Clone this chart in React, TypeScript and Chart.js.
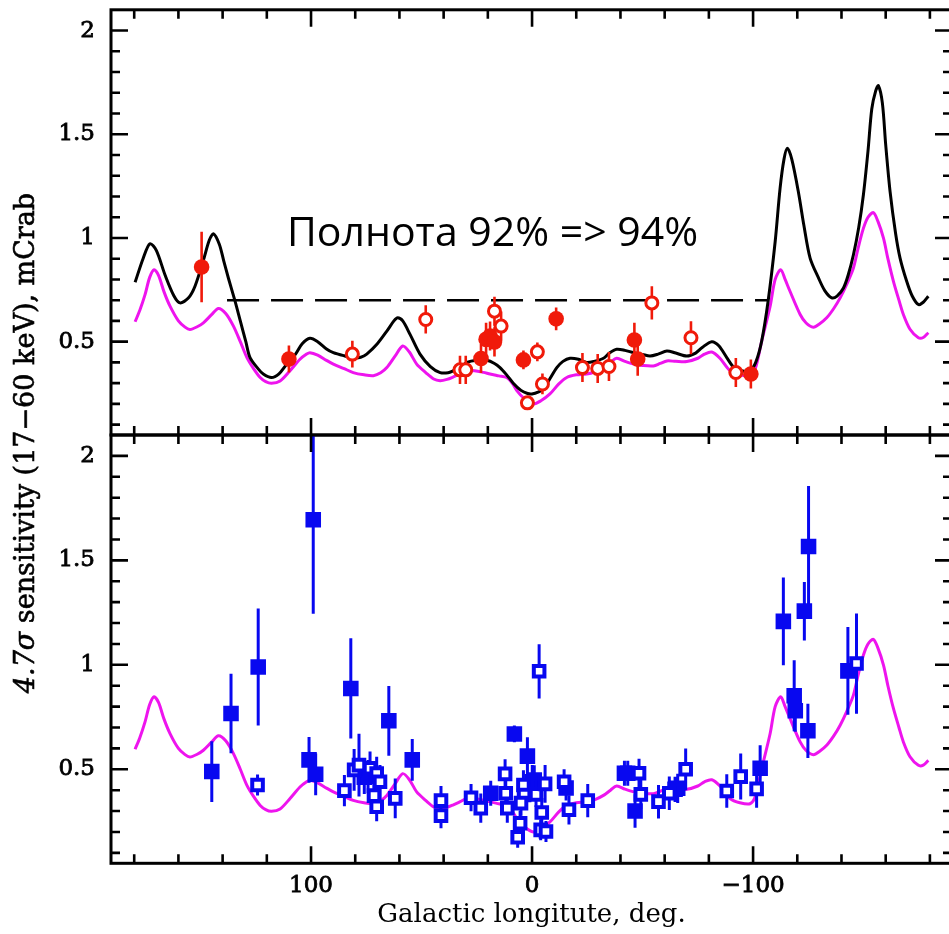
import React, { useEffect, useRef } from "react";
import { Chart, registerables } from "chart.js";
Chart.register(...registerables);

// ---------------- data ----------------
const blackLon = [179.6, 176, 172.9, 170, 166, 162, 159.3, 155.5, 152.5, 148.5, 146, 144.1, 141.5, 139.5, 137.4, 134.5, 132, 129.5, 127.6, 124, 121.6, 117.9, 114.5, 111.1, 107, 104, 100.5, 97, 93, 89.9, 85, 80.9, 77.5, 74.8, 70, 65.7, 62.5, 60.8, 58.5, 55.2, 50.7, 46, 41.6, 38, 35.6, 32, 29.5, 25, 20.5, 17, 14.5, 11.5, 8.5, 5, 2, 0.1, -3, -5.1, -8, -11.2, -14, -17.2, -21, -24.7, -28, -32.3, -35, -38.3, -42, -45.9, -50, -53.4, -57, -61, -65, -70, -74, -77, -81.3, -84.5, -88.1, -90.5, -92.6, -95.5, -98.6, -101.2, -103.9, -106.9, -110, -112.2, -114, -115.5, -117.5, -120.5, -123, -125.8, -129.6, -132.5, -135.6, -138, -140.9, -143, -145.4, -147.8, -149.9, -152, -153.7, -155.5, -156.7, -158.5, -160, -162, -164.5, -166.5, -169.5, -172, -174.8, -177, -179.3];
const blackVal = [0.786, 0.9, 0.972, 0.94, 0.82, 0.72, 0.687, 0.71, 0.767, 0.9, 0.99, 1.02, 0.97, 0.89, 0.807, 0.7, 0.6, 0.5, 0.423, 0.37, 0.344, 0.327, 0.345, 0.39, 0.44, 0.49, 0.516, 0.5, 0.465, 0.447, 0.432, 0.423, 0.425, 0.44, 0.49, 0.551, 0.6, 0.615, 0.6, 0.535, 0.44, 0.38, 0.351, 0.35, 0.36, 0.38, 0.4, 0.41, 0.41, 0.395, 0.375, 0.34, 0.3, 0.265, 0.25, 0.248, 0.258, 0.272, 0.32, 0.375, 0.405, 0.42, 0.415, 0.4, 0.405, 0.42, 0.445, 0.463, 0.458, 0.447, 0.438, 0.431, 0.44, 0.455, 0.445, 0.431, 0.445, 0.472, 0.5, 0.48, 0.423, 0.385, 0.365, 0.358, 0.36, 0.4, 0.503, 0.703, 0.983, 1.238, 1.38, 1.433, 1.38, 1.222, 1.06, 0.903, 0.807, 0.745, 0.711, 0.72, 0.759, 0.82, 0.919, 1.05, 1.207, 1.42, 1.622, 1.71, 1.734, 1.65, 1.45, 1.222, 1.02, 0.903, 0.791, 0.72, 0.679, 0.69, 0.719];

const magentaLon = [179.6, 177.5, 175.1, 173, 171, 169, 166.5, 163.8, 160, 157, 154.8, 151.5, 148.7, 145, 141.9, 138.5, 135.1, 132, 129, 126, 123, 120.5, 117.9, 114, 109.5, 105, 102, 100.5, 97, 93, 89.9, 85, 80.9, 76, 71.8, 68.5, 65.7, 62, 58.5, 55.5, 52.2, 48, 44.5, 41.6, 38.5, 35.6, 32.5, 29.5, 26, 22, 19, 15, 11.5, 9, 6.9, 3.5, -0.6, -4, -8.1, -12, -15.7, -20, -24.7, -28.5, -32.3, -35.5, -38.3, -42, -45.9, -50, -54.9, -58, -61, -65, -70, -75, -78, -81.3, -85, -89.6, -94, -98.6, -101, -103.9, -107.7, -110, -112.5, -114.5, -116.7, -121.3, -124, -127.3, -130, -133.3, -136.5, -139.4, -142.5, -145.4, -147.5, -149.9, -152, -154.4, -156.5, -159, -161, -163.5, -166, -168, -171, -174.8, -177, -179.3];
const magentaVal = [0.596, 0.65, 0.727, 0.81, 0.847, 0.82, 0.74, 0.671, 0.6, 0.57, 0.559, 0.572, 0.591, 0.63, 0.66, 0.635, 0.575, 0.5, 0.423, 0.37, 0.327, 0.307, 0.299, 0.31, 0.36, 0.415, 0.44, 0.447, 0.435, 0.41, 0.392, 0.37, 0.351, 0.34, 0.336, 0.35, 0.375, 0.43, 0.479, 0.45, 0.392, 0.35, 0.32, 0.312, 0.318, 0.33, 0.345, 0.36, 0.36, 0.352, 0.344, 0.335, 0.327, 0.3, 0.264, 0.225, 0.2, 0.215, 0.248, 0.295, 0.327, 0.34, 0.344, 0.355, 0.375, 0.4, 0.42, 0.405, 0.392, 0.385, 0.383, 0.395, 0.407, 0.405, 0.404, 0.42, 0.44, 0.45, 0.42, 0.36, 0.34, 0.335, 0.37, 0.503, 0.67, 0.8, 0.847, 0.8, 0.743, 0.631, 0.59, 0.57, 0.585, 0.615, 0.66, 0.711, 0.78, 0.855, 0.95, 1.046, 1.1, 1.122, 1.08, 0.999, 0.9, 0.791, 0.7, 0.631, 0.56, 0.519, 0.52, 0.543];

const thresholdLevel = 0.7;
const thresholdFrom = 138;
const thresholdTo = -107;

const redFilledLon = [149.5, 110, 23.1, 20.8, 19, 17, 3.9, -10.9, -46.3, -47.8, -99];
const redFilledVal = [0.86, 0.416, 0.419, 0.511, 0.527, 0.499, 0.412, 0.61, 0.508, 0.416, 0.344];
const redFilledErr = [0.17, 0.065, 0.07, 0.08, 0.07, 0.07, 0.045, 0.055, 0.083, 0.08, 0.07];

const redOpenLon = [81.3, 48.1, 32.6, 30, 17, 14, -2.4, 2.1, -4.7, -22.8, -29.7, -34.8, -54.2, -71.9, -92.2];
const redOpenVal = [0.44, 0.607, 0.364, 0.364, 0.647, 0.575, 0.451, 0.205, 0.296, 0.375, 0.371, 0.38, 0.687, 0.519, 0.351];
const redOpenErr = [0.065, 0.068, 0.068, 0.068, 0.07, 0.07, 0.045, 0.03, 0.05, 0.07, 0.07, 0.07, 0.08, 0.08, 0.07];

const blueFilledLon = [144.9, 136.2, 123.9, 100.9, 97.9, 99, 82, 64.8, 54.2, 75.9, 74.2, 18.7, 8, 2.1, -0.1, -1, -15.4, -41.8, -43.3, -46.6, -64.7, -65.9, -103.2, -113.7, -118.6, -119.1, -123.2, -125.1, -124.8, -142.9];
const blueFilledVal = [0.489, 0.767, 0.99, 0.545, 0.476, 1.694, 0.887, 0.732, 0.545, 0.462, 0.465, 0.385, 0.669, 0.563, 0.44, 0.449, 0.41, 0.481, 0.481, 0.3, 0.404, 0.409, 0.505, 1.208, 0.852, 0.78, 1.257, 1.566, 0.684, 0.971];
const blueFilledErr = [0.145, 0.19, 0.28, 0.11, 0.1, 0.45, 0.24, 0.167, 0.1, 0.08, 0.08, 0.06, 0.04, 0.09, 0.08, 0.07, 0.06, 0.06, 0.06, 0.08, 0.06, 0.07, 0.11, 0.21, 0.17, 0.1, 0.14, 0.29, 0.13, 0.21];

const blueOpenLon = [124.2, 84.9, 80.5, 78.3, 73.3, 70.3, 68.8, 71.5, 70.3, 61.9, 41.2, 41.2, 27.6, 23.2, 12.2, 11.9, 11.2, 6.5, 3.9, 3.6, 5, 5.4, -1.8, -4.4, -3.9, -6.3, -5.9, -3.2, -14.5, -16.7, -25.2, -48.4, -49.2, -57.2, -62.1, -69.5, -88.1, -94.4, -101.6, -146.8];
const blueOpenVal = [0.425, 0.398, 0.497, 0.52, 0.505, 0.48, 0.44, 0.374, 0.321, 0.361, 0.35, 0.278, 0.364, 0.314, 0.478, 0.385, 0.314, 0.175, 0.425, 0.377, 0.338, 0.242, 0.38, 0.293, 0.21, 0.202, 0.43, 0.969, 0.44, 0.306, 0.35, 0.481, 0.38, 0.345, 0.385, 0.5, 0.396, 0.465, 0.406, 1.006];
const blueOpenErr = [0.05, 0.075, 0.1, 0.15, 0.08, 0.08, 0.08, 0.07, 0.07, 0.095, 0.07, 0.06, 0.065, 0.07, 0.07, 0.07, 0.07, 0.05, 0.07, 0.06, 0.06, 0.06, 0.06, 0.07, 0.05, 0.05, 0.09, 0.13, 0.06, 0.07, 0.08, 0.07, 0.07, 0.08, 0.08, 0.1, 0.08, 0.11, 0.09, 0.24];

const xTickValues = [100, 0, -100];
const yTickValues = [0.5, 1, 1.5, 2];
const xMinorStep = 20;
const yMinorStep = 0.1;

const xTitle = "Galactic longitute, deg.";
const yTitleItalic = "4.7σ";
const yTitleRest = " sensitivity (17−60 keV), mCrab";
const annotationText = "Полнота 92% => 94%";

// ---------------- style ----------------
const X_MIN = -190;
const X_MAX = 190.5;
const Y_MIN = 0.05;
const Y_MAX = 2.1;
const RED = "#f01a0a";
const BLUE = "#0808f0";
const MAGENTA = "#ee14ee";
const AXIS_FONT = '"DejaVu Serif"';
const CANVAS_W = 952;

const pts = (lon: number[], val: number[], err?: number[]) =>
  lon.map((x, i) => ({ x, y: val[i], e: err ? err[i] : 0 }));

const errorBars = {
  id: "errorBars",
  beforeDatasetDraw(chart: any, args: any) {
    const ds = chart.data.datasets[args.index];
    if (!ds.errColor) return;
    const { ctx, chartArea, scales } = chart;
    ctx.save();
    ctx.beginPath();
    ctx.rect(chartArea.left, chartArea.top, chartArea.right - chartArea.left, chartArea.bottom - chartArea.top);
    ctx.clip();
    ctx.strokeStyle = ds.errColor;
    ctx.lineWidth = ds.errWidth;
    ctx.beginPath();
    for (const p of ds.data) {
      const px = scales.x.getPixelForValue(p.x);
      ctx.moveTo(px, scales.y.getPixelForValue(p.y - p.e));
      ctx.lineTo(px, scales.y.getPixelForValue(p.y + p.e));
    }
    ctx.stroke();
    ctx.restore();
  },
};

const frameTicks = {
  id: "frameTicks",
  afterDatasetsDraw(chart: any) {
    const { ctx, chartArea, scales } = chart;
    const { left, right, top, bottom } = chartArea;
    ctx.save();
    ctx.strokeStyle = "#000";
    ctx.lineWidth = 2.6;
    ctx.beginPath();
    for (let v = -180; v <= 180; v += xMinorStep) {
      const px = scales.x.getPixelForValue(v);
      const len = Math.abs(v) % 100 === 0 ? 17 : 9;
      ctx.moveTo(px, top);
      ctx.lineTo(px, top + len);
      ctx.moveTo(px, bottom);
      ctx.lineTo(px, bottom - len);
    }
    for (let k = 1; k <= 20; k++) {
      const v = k * yMinorStep;
      const py = scales.y.getPixelForValue(v);
      const len = k % 5 === 0 ? 17 : 9;
      ctx.moveTo(left, py);
      ctx.lineTo(left + len, py);
      ctx.moveTo(right, py);
      ctx.lineTo(right - len, py);
    }
    ctx.stroke();
    ctx.lineWidth = 3;
    ctx.strokeRect(left, top, right - left, bottom - top);
    ctx.restore();
  },
};

const topTexts = {
  id: "topTexts",
  afterDraw(chart: any) {
    const { ctx } = chart;
    const off = 20; // canvas top offset on page
    ctx.save();
    ctx.fillStyle = "#000";
    ctx.font = '41px "Open Sans"';
    ctx.textAlign = "left";
    ctx.textBaseline = "alphabetic";
    ctx.fillText(annotationText, 287, 246 + off);

    ctx.translate(27, 443 + off);
    ctx.rotate(-Math.PI / 2);
    const f1 = `italic 27px ${AXIS_FONT}`;
    const f2 = `27px ${AXIS_FONT}`;
    ctx.font = f1;
    const w1 = ctx.measureText(yTitleItalic).width;
    ctx.font = f2;
    const w2 = ctx.measureText(yTitleRest).width;
    const start = -(w1 + w2) / 2;
    ctx.textBaseline = "middle";
    ctx.strokeStyle = "#000";
    ctx.lineWidth = 0.6;
    ctx.font = f1;
    ctx.fillText(yTitleItalic, start, 0);
    ctx.strokeText(yTitleItalic, start, 0);
    ctx.font = f2;
    ctx.fillText(yTitleRest, start + w1, 0);
    ctx.strokeText(yTitleRest, start + w1, 0);
    ctx.restore();
  },
};

const yScale = () => ({
  type: "linear" as const,
  min: Y_MIN,
  max: Y_MAX,
  afterBuildTicks: (s: any) => {
    s.ticks = yTickValues.map((v) => ({ value: v }));
  },
  afterFit: (s: any) => {
    s.width = 111;
  },
  grid: { display: false, drawTicks: false },
  border: { display: false },
  ticks: {
    color: "#000",
    padding: 16,
    textStrokeColor: "#000",
    textStrokeWidth: 0.8,
    font: { family: AXIS_FONT, size: 23 },
    callback: (v: any) => String(v),
  },
});

const curveDs = (label: string, lon: number[], val: number[], color: string) => ({
  label,
  data: pts(lon, val),
  showLine: true,
  borderColor: color,
  borderWidth: 3,
  pointRadius: 0,
  tension: 0.3,
  fill: false,
});

export default function App() {
  const topRef = useRef<HTMLCanvasElement>(null);
  const botRef = useRef<HTMLCanvasElement>(null);

  useEffect(() => {
    const common = {
      responsive: false,
      animation: false as const,
      events: [] as any[],
      plugins: { legend: { display: false }, tooltip: { enabled: false } },
    };

    const top = new Chart(topRef.current!, {
      type: "scatter",
      data: {
        datasets: [
          {
            label: "open",
            data: pts(redOpenLon, redOpenVal, redOpenErr),
            pointStyle: "circle",
            pointRadius: 6,
            borderWidth: 3,
            borderColor: RED,
            backgroundColor: "#ffffff",
            errColor: RED,
            errWidth: 2.6,
          } as any,
          {
            label: "filled",
            data: pts(redFilledLon, redFilledVal, redFilledErr),
            pointStyle: "circle",
            pointRadius: 7.8,
            borderWidth: 0,
            backgroundColor: RED,
            errColor: RED,
            errWidth: 2.6,
          } as any,
          curveDs("black", blackLon, blackVal, "#000000"),
          curveDs("magenta", magentaLon, magentaVal, MAGENTA),
          {
            label: "threshold",
            data: [
              { x: thresholdFrom, y: thresholdLevel },
              { x: thresholdTo, y: thresholdLevel },
            ],
            showLine: true,
            borderColor: "#000000",
            borderWidth: 2.6,
            borderDash: [32, 12],
            pointRadius: 0,
          },
        ],
      },
      options: {
        ...common,
        layout: { autoPadding: false, padding: { top: 26, bottom: 499, left: 0, right: 0 } },
        scales: {
          x: { type: "linear", reverse: true, min: X_MIN, max: X_MAX, display: false },
          y: yScale(),
        },
      } as any,
      plugins: [errorBars, frameTicks, topTexts],
    });

    const bot = new Chart(botRef.current!, {
      type: "scatter",
      data: {
        datasets: [
          {
            label: "open",
            data: pts(blueOpenLon, blueOpenVal, blueOpenErr),
            pointStyle: "rect",
            pointRadius: 7.5,
            borderWidth: 4,
            borderColor: BLUE,
            backgroundColor: "#ffffff",
            errColor: BLUE,
            errWidth: 3,
          } as any,
          {
            label: "filled",
            data: pts(blueFilledLon, blueFilledVal, blueFilledErr),
            pointStyle: "rect",
            pointRadius: 11,
            borderWidth: 0,
            backgroundColor: BLUE,
            errColor: BLUE,
            errWidth: 3,
          } as any,
          curveDs("magenta", magentaLon, magentaVal, MAGENTA),
        ],
      },
      options: {
        ...common,
        layout: { autoPadding: false, padding: { top: 435, bottom: 0, left: 0, right: 0 } },
        scales: {
          x: {
            type: "linear",
            reverse: true,
            min: X_MIN,
            max: X_MAX,
            afterBuildTicks: (s: any) => {
              s.ticks = xTickValues.map((v) => ({ value: v }));
            },
            afterFit: (s: any) => {
              s.height = 70.7;
            },
            grid: { display: false, drawTicks: false },
            border: { display: false },
            ticks: {
              color: "#000",
              padding: 9,
              maxRotation: 0,
              autoSkip: false,
              textStrokeColor: "#000",
              textStrokeWidth: 0.8,
              font: { family: AXIS_FONT, size: 23 },
              callback: (v: any) => (v < 0 ? "−" + Math.abs(v) : String(v)),
            },
            title: {
              display: true,
              text: xTitle,
              color: "#000",
              font: { family: AXIS_FONT, size: 26 },
              padding: { top: 0, bottom: 3.5 },
            },
          },
          y: yScale(),
        },
      } as any,
      plugins: [errorBars, frameTicks],
    });

    return () => {
      top.destroy();
      bot.destroy();
    };
  }, []);

  return (
    <div
      style={{
        position: "fixed",
        left: 0,
        top: 0,
        width: 949,
        height: 934,
        overflow: "hidden",
        background: "#ffffff",
      }}
    >
      <canvas
        ref={topRef}
        width={CANVAS_W}
        height={954}
        style={{ position: "absolute", left: 0, top: -20, display: "block" }}
      />
      <canvas
        ref={botRef}
        width={CANVAS_W}
        height={934}
        style={{ position: "absolute", left: 0, top: 0, display: "block" }}
      />
    </div>
  );
}
